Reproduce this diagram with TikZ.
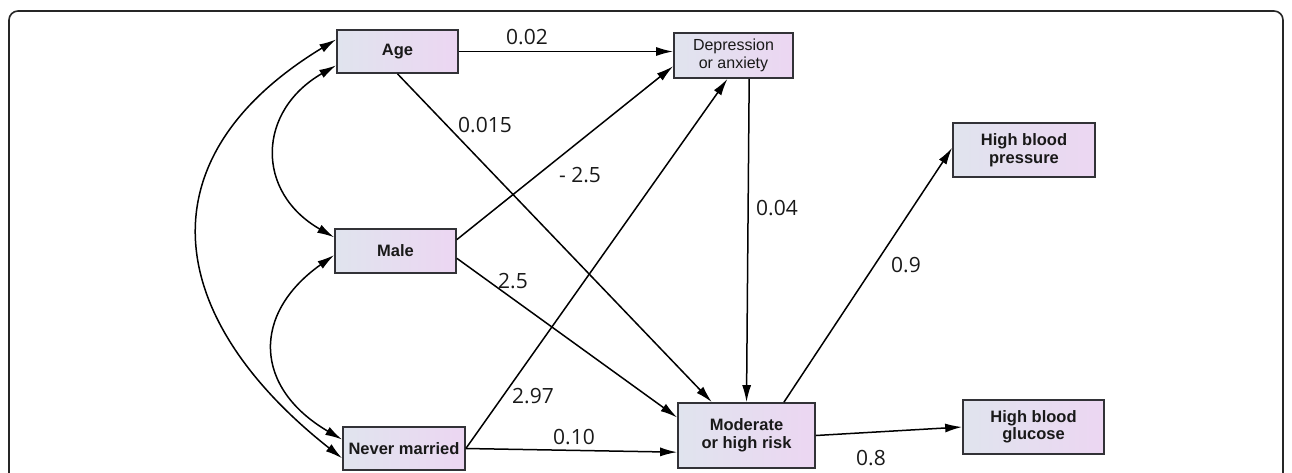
\documentclass[tikz,border=0pt]{standalone}
\usepackage{fontspec}
\setmainfont{Liberation Sans}
\newfontfamily\numfont{Open Sans}
\usetikzlibrary{arrows.meta,calc}
\definecolor{boxleft}{RGB}{224,228,238}
\definecolor{boxright}{RGB}{236,214,242}
\definecolor{boxborder}{RGB}{50,50,55}
\definecolor{txt}{RGB}{25,25,25}
\tikzset{
  box/.style={draw=boxborder, line width=1.7pt, left color=boxleft, right color=boxright,
    inner sep=0pt, align=center, text=txt, font=\fontsize{16.5}{17.5}\selectfont\bfseries},
  boxreg/.style={box, font=\fontsize{16}{17.5}\selectfont},
  arr/.style={-{Latex[length=17pt,width=9pt]}, line width=1.5pt, draw=black},
  biarr/.style={{Latex[length=17pt,width=9pt]}-{Latex[length=17pt,width=9pt]}, line width=1.5pt, draw=black},
  lbl/.style={font=\numfont\fontsize{21}{22}\selectfont, text=txt, inner sep=0pt}
}
\begin{document}
\begin{tikzpicture}[x=1pt,y=-1pt]
\useasboundingbox (0,0) rectangle (1292,472);
\clip (0,0) rectangle (1292,472);
\draw[line width=1.6pt, rounded corners=9pt, black!85] (9,11) rectangle (1283,560);

\node[box, minimum width=121pt, minimum height=43pt] (age) at (397.5,51.5) {Age};
\node[boxreg, minimum width=119pt, minimum height=45pt] (dep) at (733.5,55.5) {Depression\\or anxiety};
\node[box, minimum width=121pt, minimum height=44pt] (male) at (395.5,251) {Male};
\node[box, minimum width=122pt, minimum height=43pt] (nm) at (404,448.5) {Never married};
\node[box, minimum width=137pt, minimum height=65pt] (mod) at (746.5,435.5) {Moderate\\or high risk};
\node[box, minimum width=142pt, minimum height=54pt] (hbp) at (1024,150) {High blood\\pressure};
\node[box, minimum width=141pt, minimum height=54pt] (hbg) at (1033.5,427) {High blood\\glucose};

\draw[arr] (age.east) -- (age.east -| dep.west);
\draw[arr] (age.south) -- ($(mod.north west)!0.25!(mod.north east)$);
\draw[arr] ($(male.north east)!0.25!(male.south east)$) -- ($(dep.north west)!0.73!(dep.south west)$);
\draw[arr] (nm.east) -- ($(dep.south west)!0.45!(dep.south east)$);
\draw[arr] ($(dep.south west)!0.63!(dep.south east)$) -- (mod.north);
\draw[arr] ($(male.north east)!0.66!(male.south east)$) -- ($(mod.north west)!0.23!(mod.south west)$);
\draw[arr] (nm.east) -- ($(mod.north west)!0.75!(mod.south west)$);
\draw[arr] ($(mod.north west)!0.77!(mod.north east)$) -- ($(hbp.north west)!0.46!(hbp.south west)$);
\draw[arr] (mod.east) -- (hbg.west);

\draw[biarr] ($(age.north west)!0.81!(age.south west)$) .. controls (257,111) and (255,192) .. ($(male.north west)!0.2!(male.south west)$);
\draw[biarr] ($(male.north west)!0.59!(male.south west)$) .. controls (251,314) and (254,388) .. ($(nm.north west)!0.3!(nm.south west)$);
\draw[biarr] ($(age.north west)!0.23!(age.south west)$) .. controls (141,158) and (163,317) .. ($(nm.north west)!0.72!(nm.south west)$);

\node[lbl] (l1) at (527,37) {0.02};
\node[lbl] (l2) at (485,125) {0.015};
\node[lbl] (l3) at (580,175) {- 2.5};
\node[lbl] (l4) at (777,208) {0.04};
\node[lbl] (l5) at (906,265) {0.9};
\node[lbl] (l6) at (513,281) {2.5};
\node[lbl] (l7) at (533,396) {2.97};
\node[lbl] (l8) at (574,437) {0.10};
\node[lbl] (l9) at (871,458) {0.8};
\end{tikzpicture}
\end{document}
